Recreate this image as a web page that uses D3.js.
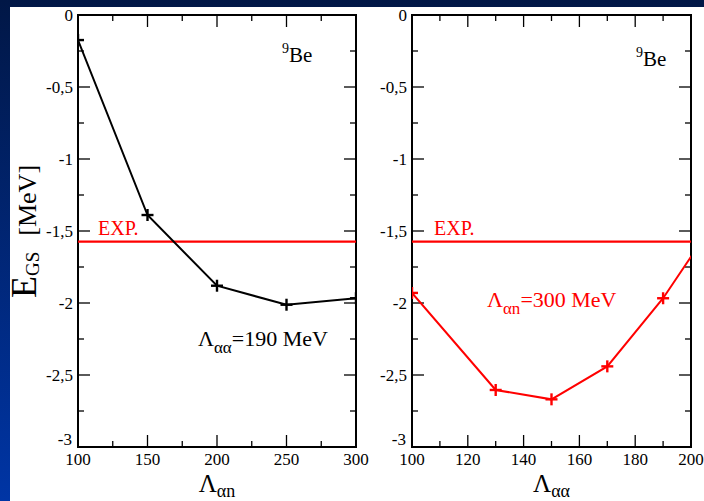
<!DOCTYPE html>
<html><head><meta charset="utf-8">
<script src="https://cdn.jsdelivr.net/npm/d3@7"></script>
<style>body{margin:0;background:#fff}svg{display:block}text{font-family:'Liberation Serif','Times New Roman',Times,'DejaVu Serif',serif}</style>
</head><body>
<script>
// Data
const leftX = [100, 150, 200, 250, 300];
const leftY = [-0.174, -1.389, -1.88, -2.012, -1.967];
const rightX = [100, 130, 150, 170, 190, 210];
const rightY = [-1.93, -2.604, -2.669, -2.44, -1.967, -1.39];
const expValue = -1.574;
const yTicks = [0, -0.5, -1, -1.5, -2, -2.5, -3];
const yTickLabels = ["0", "-0,5", "-1", "-1,5", "-2", "-2,5", "-3"];
const leftXTicks = [100, 150, 200, 250, 300];
const rightXTicks = [100, 120, 140, 160, 180, 200];

(function(){
const W = 704, H = 501;
const svg = d3.select("body").append("svg").attr("width", W).attr("height", H);
const defs = svg.append("defs");
const grad = defs.append("linearGradient").attr("id","bg").attr("x1",0).attr("y1",0).attr("x2",0).attr("y2",1);
grad.append("stop").attr("offset","0%").attr("stop-color","#011746");
grad.append("stop").attr("offset","100%").attr("stop-color","#0035a5");
svg.append("rect").attr("width",W).attr("height",H).attr("fill","url(#bg)");
svg.append("rect").attr("x",10).attr("y",7).attr("width",W-10).attr("height",H-7).attr("fill","#fff");

const yTop = 15, yBot = 447;

function panel(opts) {
  const x = d3.scaleLinear().domain(opts.xDomain).range([opts.x0, opts.x1]);
  const y = d3.scaleLinear().domain([-3, 0]).range([yBot, yTop]);
  const g = svg.append("g");
  const clipId = "clip" + opts.id;
  defs.append("clipPath").attr("id", clipId).append("rect")
    .attr("x", opts.x0).attr("y", yTop).attr("width", opts.x1 - opts.x0).attr("height", yBot - yTop);

  const yMinor = d3.range(0, -3.01, -0.25);
  yMinor.forEach(v => {
    const major = Math.abs(v * 2 - Math.round(v * 2)) < 1e-6;
    const len = major ? 12 : 6;
    g.append("line").attr("x1", opts.x0).attr("x2", opts.x0 + len).attr("y1", y(v)).attr("y2", y(v)).attr("stroke","#000").attr("stroke-width",1.3);
    g.append("line").attr("x1", opts.x1).attr("x2", opts.x1 - len).attr("y1", y(v)).attr("y2", y(v)).attr("stroke","#000").attr("stroke-width",1.3);
  });
  const xMinor = d3.range(opts.xDomain[0], opts.xDomain[1] + 0.01, opts.minorStep);
  xMinor.forEach(v => {
    const major = opts.xTicks.includes(v);
    const len = major ? 12 : 6;
    g.append("line").attr("x1", x(v)).attr("x2", x(v)).attr("y1", yBot).attr("y2", yBot - len).attr("stroke","#000").attr("stroke-width",1.3);
    g.append("line").attr("x1", x(v)).attr("x2", x(v)).attr("y1", yTop).attr("y2", yTop + len).attr("stroke","#000").attr("stroke-width",1.3);
  });
  g.append("rect").attr("x", opts.x0).attr("y", yTop).attr("width", opts.x1 - opts.x0).attr("height", yBot - yTop)
    .attr("fill","none").attr("stroke","#000").attr("stroke-width",2);

  yTicks.forEach((v, i) => {
    g.append("text").attr("x", opts.x0 - (v === -3 ? 6 : 5)).attr("y", y(v) + (v === -3 ? -2 : 6)).attr("text-anchor","end")
      .attr("font-size", 17).text(yTickLabels[i]);
  });
  opts.xTicks.forEach(v => {
    g.append("text").attr("x", x(v)).attr("y", yBot + 18).attr("text-anchor","middle")
      .attr("font-size", 17).text(v);
  });

  g.append("line").attr("x1", opts.x0).attr("x2", opts.x1).attr("y1", y(expValue)).attr("y2", y(expValue))
    .attr("stroke","#ff0000").attr("stroke-width",2.4);
  g.append("text").attr("x", opts.x0 + opts.expDx).attr("y", y(expValue) - 6.5).attr("fill","#ff0000")
    .attr("font-size", 20).text("EXP.");

  const pts = opts.xs.map((v, i) => [v, opts.ys[i]]);
  const dg = g.append("g").attr("clip-path", `url(#${clipId})`);
  dg.append("path").attr("d", d3.line().x(d => x(d[0])).y(d => y(d[1]))(pts))
    .attr("fill","none").attr("stroke", opts.color).attr("stroke-width",2);
  pts.forEach(d => {
    dg.append("line").attr("x1", x(d[0]) - 6).attr("x2", x(d[0]) + 6).attr("y1", y(d[1])).attr("y2", y(d[1])).attr("stroke", opts.color).attr("stroke-width",2.4);
    dg.append("line").attr("x1", x(d[0])).attr("x2", x(d[0])).attr("y1", y(d[1]) - 6).attr("y2", y(d[1]) + 6).attr("stroke", opts.color).attr("stroke-width",2.4);
  });

  const be = g.append("text").attr("x", opts.beX).attr("y", opts.beY).attr("font-size", 21);
  be.append("tspan").attr("font-size", 14).attr("dy", -9).text("9");
  be.append("tspan").attr("dy", 9).text("Be");

  const xl = g.append("text").attr("x", (opts.x0 + opts.x1) / 2).attr("y", 492).attr("text-anchor","middle").attr("font-size", 25);
  xl.append("tspan").text("Λ");
  xl.append("tspan").attr("font-size", 18).attr("dy", 5).text(opts.xSub);

  const pl = g.append("text").attr("x", opts.plX).attr("y", opts.plY).attr("fill", opts.plColor)
    .attr("font-size", 22);
  pl.append("tspan").text("Λ");
  pl.append("tspan").attr("font-size", 17).attr("dy", 7).text(opts.plSub);
  pl.append("tspan").attr("dy", -7).text(opts.plRest);
}

panel({id:"L", xDomain:[100,300], x0:78, x1:356, xTicks:leftXTicks, minorStep:25,
  xs:leftX, ys:leftY, color:"#000", beX:282, beY:62, xSub:"αn", expDx:20,
  plX:198, plY:346, plSub:"αα", plRest:"=190 MeV", plColor:"#000"});
panel({id:"R", xDomain:[100,200], x0:412, x1:691, xTicks:rightXTicks, minorStep:10,
  xs:rightX, ys:rightY, color:"#ff0000", beX:636, beY:66, xSub:"αα", expDx:22,
  plX:487, plY:307, plSub:"αn", plRest:"=300 MeV", plColor:"#ff0000"});

const yl = svg.append("text").attr("transform","translate(36,298) rotate(-90)")
  .attr("font-size", 36);
yl.append("tspan").text("E");
yl.append("tspan").attr("font-size", 19).attr("dy", 3).text("GS");
yl.append("tspan").attr("font-size", 26).attr("dy", -3).attr("dx", 16).text("[MeV]");
})();
</script>
</body></html>
